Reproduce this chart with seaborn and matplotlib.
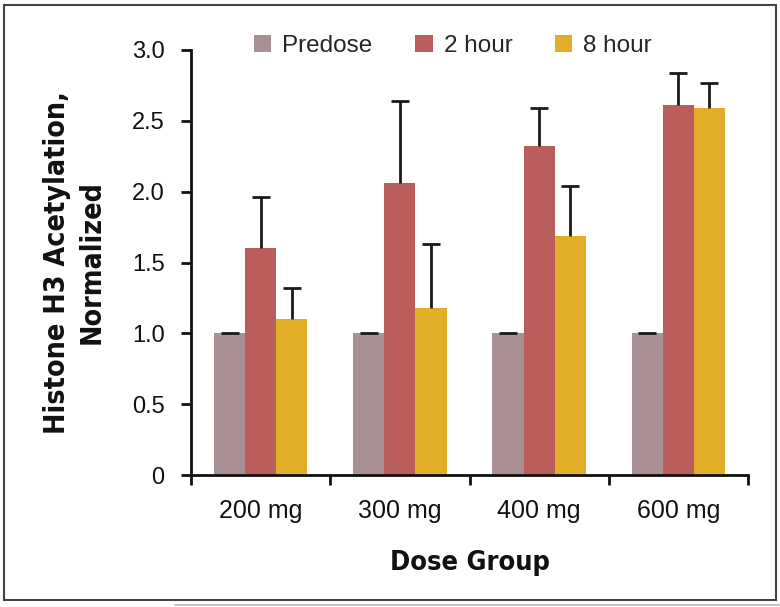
import matplotlib
matplotlib.use("Agg")
import matplotlib.pyplot as plt
import seaborn as sns
import pandas as pd
import numpy as np
from matplotlib.patches import Rectangle
from matplotlib.ticker import FixedLocator, FixedFormatter
from matplotlib import font_manager as fm

# ---- data ----
doses = ["200 mg", "300 mg", "400 mg", "600 mg"]
timepoints = ["Predose", "2 hour", "8 hour"]
predose = [1.0, 1.0, 1.0, 1.0]
hour2 = [1.60, 2.06, 2.32, 2.61]
hour8 = [1.10, 1.18, 1.69, 2.59]
err_predose = [0.0, 0.0, 0.0, 0.0]
err_hour2 = [0.36, 0.58, 0.27, 0.23]
err_hour8 = [0.22, 0.45, 0.35, 0.18]
ytick_vals = [0, 0.5, 1.0, 1.5, 2.0, 2.5, 3.0]
ytick_labels = ["0", "0.5", "1.0", "1.5", "2.0", "2.5", "3.0"]

colors = ["#A89095", "#B95E5A", "#E2AE27"]

df = pd.DataFrame({
    "dose": doses * 3,
    "time": [t for t in timepoints for _ in doses],
    "value": predose + hour2 + hour8,
})
errs = [err_predose, err_hour2, err_hour8]

sns.set_style("white")
plt.rcParams["font.family"] = ["Liberation Sans", "DejaVu Sans"]

# look for a condensed bold face for the axis titles
cond_fp = None
for f in fm.fontManager.ttflist:
    nm = f.name.lower()
    is_cond = ("narrow" in nm or "condensed" in nm or
               str(f.stretch) in ("condensed", "semi-condensed", "extra-condensed")
               or (isinstance(f.stretch, int) and f.stretch <= 400))
    wt = f.weight if isinstance(f.weight, int) else (700 if "bold" in str(f.weight) else 400)
    if is_cond and wt >= 600 and f.style == "normal":
        cond_fp = f.fname
        break

if cond_fp is not None:
    xl_font = fm.FontProperties(fname=cond_fp, size=19.5)
    yl_font = fm.FontProperties(fname=cond_fp, size=20.5)
else:
    xl_font = fm.FontProperties(family=["Liberation Sans", "DejaVu Sans"],
                                weight="bold", size=19)
    yl_font = fm.FontProperties(family=["Liberation Sans", "DejaVu Sans"],
                                weight="bold", size=21.5)

fig = plt.figure(figsize=(7.8, 6.07), dpi=100)
ax = fig.add_axes([191/780, 1-475/607, (748-191)/780, (475-50)/607])

sns.barplot(data=df, x="dose", y="value", hue="time", order=doses,
            hue_order=timepoints, palette=colors, width=0.67, ax=ax,
            errorbar=None, saturation=1, linewidth=0, legend=True)

for cont, e in zip(ax.containers, errs):
    xs = [p.get_x() + p.get_width() / 2 for p in cont.patches]
    hs = [p.get_height() for p in cont.patches]
    _, caps, _ = ax.errorbar(xs, hs, yerr=[np.zeros(len(e)), e], fmt="none",
                             ecolor="#1a1a1a", elinewidth=2.0, capsize=6.5,
                             capthick=2.0, zorder=1)
    if len(caps) == 2:
        caps[0].remove()  # no cap at the bar top

ax.set_ylim(0, 3.0)
ax.set_xlim(-0.5, 3.5)
ax.yaxis.set_major_locator(FixedLocator(ytick_vals))
ax.yaxis.set_major_formatter(FixedFormatter(ytick_labels))

for s in ["top", "right"]:
    ax.spines[s].set_visible(False)
for s in ["left", "bottom"]:
    ax.spines[s].set_linewidth(2.0)
    ax.spines[s].set_color("#111111")

ax.tick_params(axis="y", direction="out", length=7, width=2.0,
               labelsize=17, pad=12, left=True, colors="#111111")
ax.tick_params(axis="x", which="major", length=0, labelsize=18, pad=17,
               colors="#111111")
ax.set_xticks(np.arange(-0.5, 4.0, 1.0), minor=True)
ax.tick_params(axis="x", which="minor", direction="out", length=7,
               width=2.0, bottom=True, colors="#111111")

ax.set_xlabel("Dose Group", fontproperties=xl_font, labelpad=20,
              color="#111111")
ax.set_ylabel("Histone H3 Acetylation,\nNormalized", fontproperties=yl_font,
              labelpad=19, linespacing=1.3, color="#111111")

leg = ax.legend(loc="center", bbox_to_anchor=(453/780, 1-46/607),
                bbox_transform=fig.transFigure, ncol=3, frameon=False,
                fontsize=17.5, handlelength=0.72, handleheight=0.72,
                handletextpad=0.45, columnspacing=1.75, title=None)

fig.patches.append(Rectangle((4/780, 1-600/607), 772/780, 595/607,
                             transform=fig.transFigure, fill=False,
                             edgecolor="#444444", linewidth=1.5))
fig.add_artist(plt.Line2D([175/780, 1.0], [1-605/607, 1-605/607],
                          transform=fig.transFigure, color="#bbbbbb",
                          linewidth=1.2))

fig.savefig("out.png", dpi=100)
